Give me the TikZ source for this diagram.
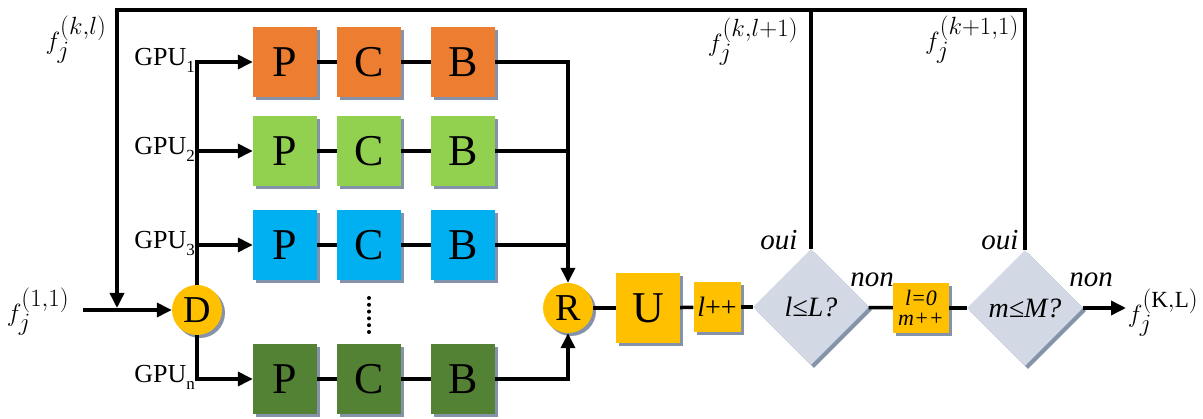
\documentclass[tikz,border=0pt]{standalone}
\usepackage{fontspec}
\setmainfont{Liberation Serif}
\usetikzlibrary{arrows.meta,shapes.geometric,shadows}
\definecolor{cOrange}{HTML}{ED7D31}
\definecolor{cGreen}{HTML}{92D050}
\definecolor{cCyan}{HTML}{00B0F0}
\definecolor{cDark}{HTML}{548235}
\definecolor{cYellow}{HTML}{FFC000}
\definecolor{cGray}{HTML}{D3D9E4}
\definecolor{cShadow}{HTML}{1F3864}
\tikzset{
  shd/.style={drop shadow={shadow xshift=3pt,shadow yshift=-3pt,fill=cShadow,opacity=0.55}},
  blk/.style={shd,minimum width=64pt,minimum height=70pt,inner sep=0pt,font=\fontsize{44}{44}\selectfont},
  circ/.style={shd,circle,fill=cYellow,minimum size=50pt,inner sep=0pt,font=\fontsize{38}{38}\selectfont},
  dia/.style={shd,diamond,fill=cGray,minimum width=116pt,minimum height=116pt,inner sep=0pt,font=\itshape\fontsize{28}{28}\selectfont},
  ln/.style={line width=3.5pt},
  arr/.style={ln,-{Triangle[length=15pt,width=14pt]}},
  gpu/.style={anchor=base east,inner sep=0pt,font=\fontsize{26}{26}\selectfont},
  flab/.style={inner sep=0pt,font=\fontsize{33}{33}\selectfont},
  yn/.style={inner sep=0pt,font=\itshape\fontsize{29}{29}\selectfont},
  dotc/.style={circle,fill=black,inner sep=0pt,minimum size=4pt}
}
\newcommand{\gsub}[1]{\raisebox{-7pt}{\fontsize{17}{17}\selectfont #1}}
\begin{document}
\begin{tikzpicture}[x=1pt,y=-1pt]
\useasboundingbox (0,0) rectangle (1203,419);
% rows
\foreach \r/\y/\c in {1/62/cOrange,2/151/cGreen,3/245/cCyan,n/379/cDark}{
  \node[blk,fill=\c] (P\r) at (285,\y) {P};
  \node[blk,fill=\c] (C\r) at (369,\y) {C};
  \node[blk,fill=\c] (B\r) at (463,\y) {B};
  \draw[ln] (P\r) -- (C\r) (C\r) -- (B\r);
}
\node[circ] (D) at (197,310) {D};
\node[circ] (R) at (568,308) {R};
\node[blk,fill=cYellow] (U) at (648,308) {U};
\node[shd,fill=cYellow,minimum width=47pt,minimum height=50pt,inner sep=0pt,font=\fontsize{28}{28}\selectfont] (inc) at (717,307) {\textit{l}++};
\node[dia] (Q1) at (811,307) {\textit{l}≤\textit{L}?};
\node[shd,fill=cYellow,minimum width=56pt,minimum height=50pt,inner sep=0pt,align=center,font=\itshape\fontsize{22}{22}\selectfont] (rst) at (921,308) {\textit{l}=0\\[-2pt]\textit{m}++};
\node[dia] (Q2) at (1025,308) {\textit{m}≤\textit{M}?};
% dots
\foreach \k in {0,...,5}{\node[dotc] (dt\k) at (369,298+\k*6.8) {};}
% coordinates
\coordinate (in) at (83,310);
\coordinate (topL) at (117,10);
\coordinate (inj) at (117,308);
\coordinate (out) at (1126,308);
% distribution
\draw[arr] (in) -- (D);
\foreach \r in {1,2,3}{\draw[arr] (D.north) |- (P\r.west);}
\draw[arr] (D.south) |- (Pn.west);
% gathering
\draw[arr] (B1.east) -| (R.north);
\draw[ln] (B2.east) -- (B2.east -| R);
\draw[ln] (B3.east) -- (B3.east -| R);
\draw[arr] (Bn.east) -| (R.south);
% chain
\draw[ln] (R) -- (U);
\draw[ln] (U) -- (inc);
\draw[ln] (inc) -- (Q1);
\draw[ln] (Q1) -- (rst);
\draw[ln] (rst) -- (Q2);
\draw[arr] (Q2.east) -- (out);
% loops
\draw[ln] (Q1.north) -- (Q1.north |- topL);
\draw[arr] (Q2.north) -- (Q2.north |- topL) -- (topL) -- (inj);
% GPU labels
\node[gpu] (g1) at (195,66) {GPU\gsub{1}};
\node[gpu] (g2) at (195,155) {GPU\gsub{2}};
\node[gpu] (g3) at (195,249) {GPU\gsub{3}};
\node[gpu] (gn) at (195,383) {GPU\gsub{n}};
% f labels
\node[flab] (f0) at (76,40) {$f_j^{(k,l)}$};
\node[flab] (f1) at (38,312) {$f_j^{(1,1)}$};
\node[flab] (f2) at (753,42) {$f_j^{(k,l+1)}$};
\node[flab] (f3) at (972,40) {$f_j^{(k+1,1)}$};
\node[flab] (f4) at (1163,313) {$f_j^{(\mathrm{K,L})}$};
% yes/no
\node[yn] (o1) at (779,240) {oui};
\node[yn] (o2) at (1000,240) {oui};
\node[yn] (n1) at (872,280) {non};
\node[yn] (n2) at (1091,280) {non};
\end{tikzpicture}
\end{document}
